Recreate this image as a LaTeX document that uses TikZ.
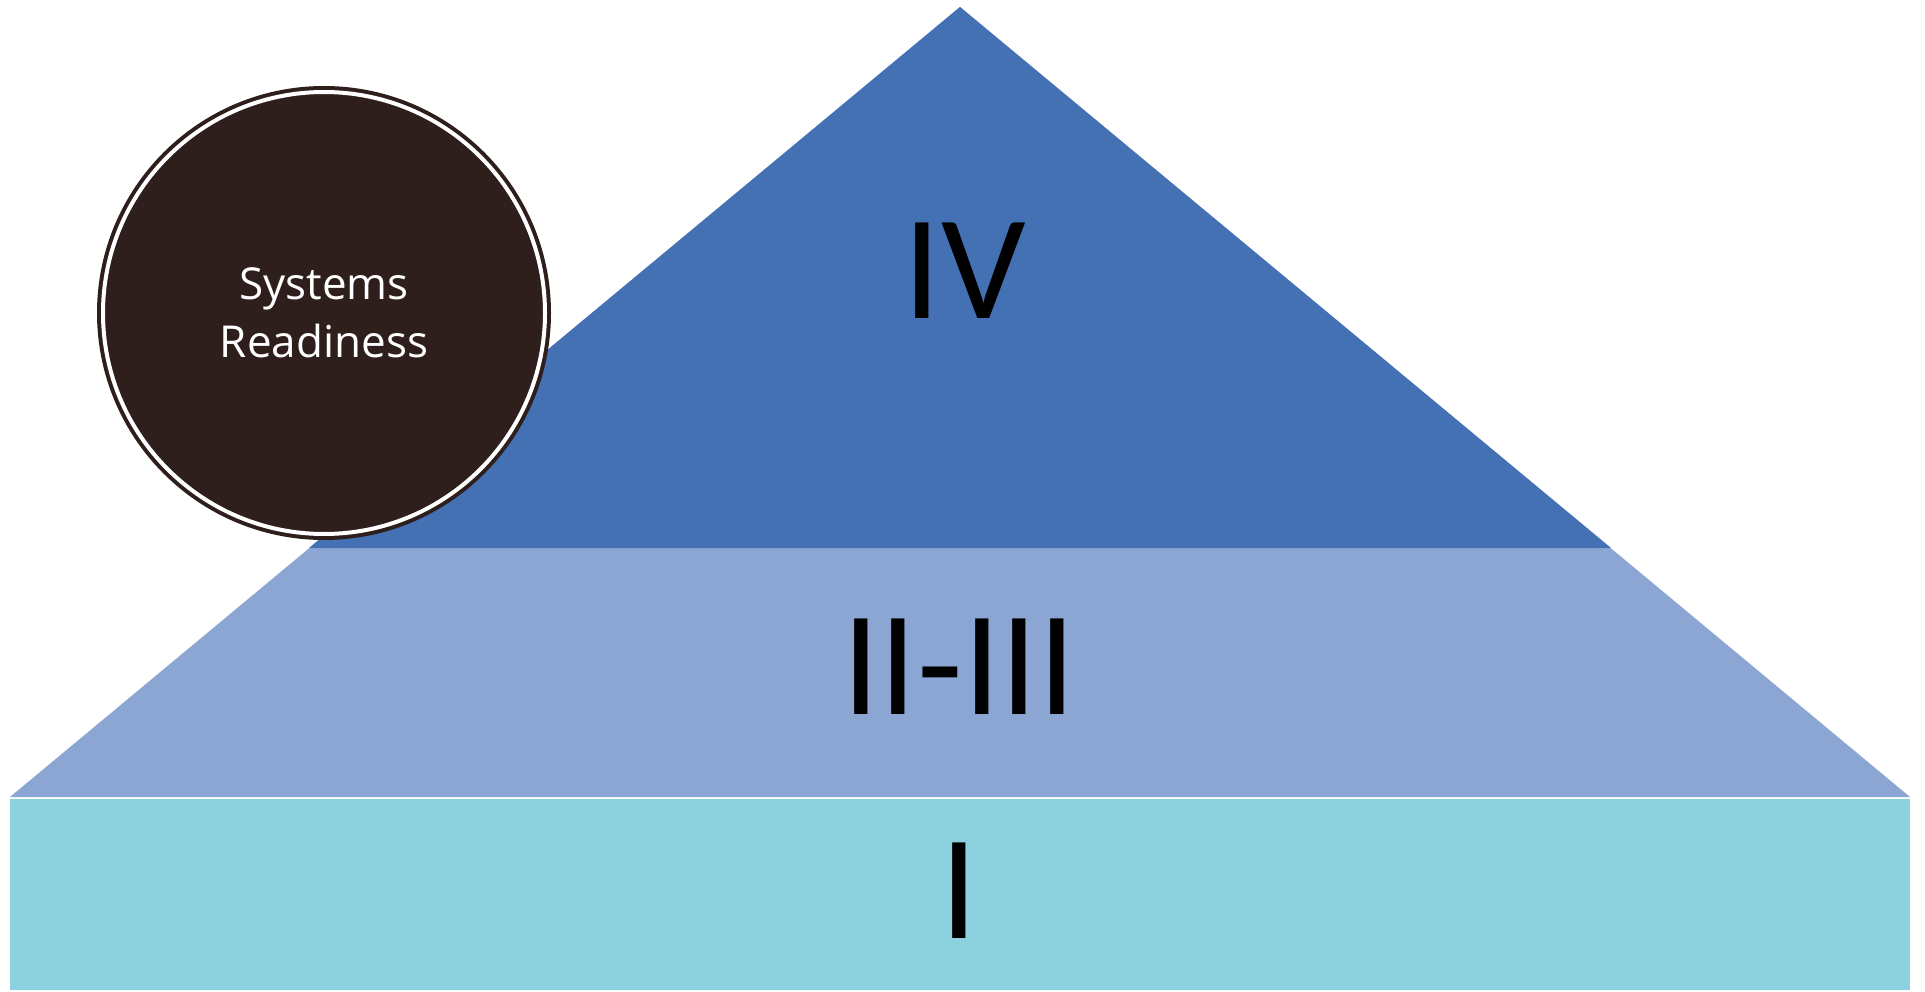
\documentclass[tikz,border=0pt]{standalone}
\usepackage{fontspec}
\setmainfont{Carlito}
\newfontfamily\discfont{Open Sans}
\usepackage{tikz}

\definecolor{tierfour}{RGB}{68,112,180}
\definecolor{tiermid}{RGB}{140,166,211}
\definecolor{tierone}{RGB}{139,209,222}
\definecolor{discbrown}{RGB}{46,31,28}

\begin{document}
\begin{tikzpicture}[
  x=1pt, y=-1pt,
  tier/.style={inner sep=0pt, text=black, font=\fontsize{149}{150}\selectfont},
  disc/.style={circle, draw=discbrown, fill=discbrown, line width=4pt, double=white, double distance=4pt,
               minimum size=442pt, inner sep=0pt, align=center, text=white,
               font=\discfont\fontsize{44}{58}\selectfont}
]
\useasboundingbox (0,0) rectangle (1925,992);
\fill[white] (0,0) rectangle (1925,992);

% pyramid bands
\fill[tiermid] (10,797) -- (960,7) -- (1910,797) -- cycle;
\fill[tierfour] (309,548) -- (960,7) -- (1611,548) -- cycle;
\fill[tierone] (10,799) rectangle (1910,990);

\node[tier] (lvlfour) at (965,271) {IV};
\node[tier] (lvlmid) at (959,667) {II-III};
\node[tier] (lvlone) at (959,891) {I};

% readiness badge
\node[disc] (ready) at (324,313) {Systems\\Readiness};
\end{tikzpicture}
\end{document}
